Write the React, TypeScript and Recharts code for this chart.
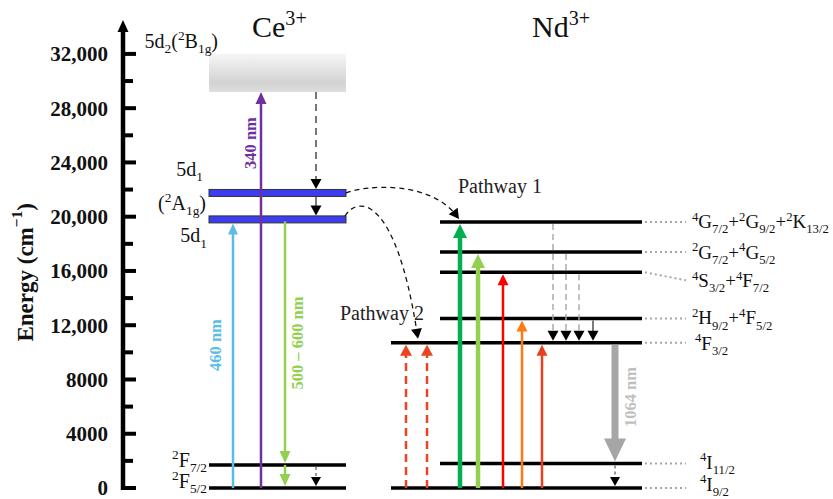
import React from 'react';
import { ComposedChart, XAxis, YAxis, ReferenceLine, ReferenceArea, ReferenceDot } from 'recharts';

const FONT = '"Liberation Serif", "DejaVu Serif", serif';

// ---- energy axis (cm-1) ----
const AXIS_TOP = 34500;
const MAJOR_TICKS = [0, 4000, 8000, 12000, 16000, 20000, 24000, 28000, 32000];
const MAJOR_LABELS = ['0', '4000', '8000', '12,000', '16,000', '20,000', '24,000', '28,000', '32,000'];
const MINOR_TICKS = [2000, 6000, 10000, 14000, 18000, 22000, 26000, 30000];

// ---- Ce3+ levels ----
const ceLevels = [0, 1700];
const ce5d1 = [19800, 21750];
const ce5d2 = [29200, 32000];
const ceLabels = ['5d_2(^2B_1g)', '5d_1', '(^2A_1g)', '5d_1', '^2F_7/2', '^2F_5/2'];
const ceLabelLevel = [32000, 21750, 21750, 19800, 1700, 0];

// ---- Nd3+ levels ----
const ndEnergies = [19600, 17400, 15900, 12500, 10700, 1800, 0];
const ndLabels = [
  '^4G_7/2+^2G_9/2+^2K_13/2',
  '^2G_7/2+^4G_5/2',
  '^4S_3/2+^4F_7/2',
  '^2H_9/2+^4F_5/2',
  '^4F_3/2',
  '^4I_11/2',
  '^4I_9/2',
];
const ndLong = [false, false, false, false, true, false, true];

// ---- transitions: column, from, to (cm-1), kind ----
const ceTransitions = [
  { x: 110, from: 0, to: 19800, kind: 'blue' },
  { x: 138, from: 0, to: 29200, kind: 'purple' },
  { x: 162, from: 19800, to: 1700, kind: 'lime' },
  { x: 162, from: 1700, to: 0, kind: 'lime' },
  { x: 193, from: 29200, to: 21750, kind: 'blackDash' },
  { x: 193, from: 21750, to: 19800, kind: 'black' },
  { x: 193, from: 1700, to: 0, kind: 'blackDashSmall' },
];
const ndTransitions = [
  { x: 283, from: 0, to: 10700, kind: 'redDash' },
  { x: 304, from: 0, to: 10700, kind: 'redDash' },
  { x: 337, from: 0, to: 19600, kind: 'green' },
  { x: 355, from: 0, to: 17400, kind: 'lightGreen' },
  { x: 380, from: 0, to: 15900, kind: 'red' },
  { x: 399, from: 0, to: 12500, kind: 'orange' },
  { x: 419, from: 0, to: 10700, kind: 'redOrange' },
  { x: 430, from: 19600, to: 10700, kind: 'grayDash' },
  { x: 443, from: 17400, to: 10700, kind: 'grayDash' },
  { x: 456, from: 15900, to: 10700, kind: 'grayDash' },
  { x: 470, from: 12500, to: 10700, kind: 'black' },
  { x: 492, from: 10700, to: 1800, kind: 'gray1064' },
  { x: 492, from: 1800, to: 0, kind: 'blackDashSmall' },
];

const wavelengthLabels = ['340 nm', '460 nm', '500 – 600 nm', '1064 nm'];
const wavelengthColors = ['#7030a0', '#5bbde6', '#92d050', '#bfbfbf'];

// ---- layout ----
const CE_SPAN = [86, 223];
const ND_SHORT = [317, 519];
const ND_LONG = [268, 519];
const CE_LABEL_LAYOUT = [
  { x: 95, dy: -6 },
  { x: 80, dy: -17 },
  { x: 83, dy: 17 },
  { x: 84, dy: 23 },
  { x: 84, dy: 2 },
  { x: 84, dy: 0 },
];
const ND_LABEL_DY = [6, 7, 15, 6, 7, 5, 3];
const WL_LAYOUT = [
  { x: 128, e: 25430 },
  { x: 93, e: 10540 },
  { x: 175, e: 10690 },
  { x: 508, e: 6710 },
];

const ARROWS: Record<string, any> = {
  blue: { stroke: '#5bbde6', w: 2.5, len: 11, half: 5, fill: '#5bbde6' },
  purple: { stroke: '#7030a0', w: 2.5, len: 12, half: 5.5, fill: '#7030a0' },
  lime: { stroke: '#92d050', w: 2.5, len: 12, half: 5.5, fill: '#92d050' },
  blackDash: { stroke: '#555', w: 1.6, dash: '7 5', len: 10, half: 5.5, fill: '#000' },
  black: { stroke: '#444', w: 1.4, len: 10, half: 5.5, fill: '#000' },
  blackDashSmall: { stroke: '#444', w: 1.1, dash: '3 3', len: 9, half: 5, fill: '#000' },
  redDash: { stroke: '#ea4420', w: 2.5, dash: '8 5', len: 11, half: 6, fill: '#ea4420' },
  green: { stroke: '#00b050', w: 4.5, len: 14, half: 7, fill: '#00b050' },
  lightGreen: { stroke: '#92d050', w: 4.5, len: 14, half: 7, fill: '#92d050' },
  red: { stroke: '#ff0000', w: 2.5, len: 11, half: 5.5, fill: '#ff0000' },
  orange: { stroke: '#ff7a10', w: 2.5, len: 11, half: 5.5, fill: '#ff7a10' },
  redOrange: { stroke: '#e8401c', w: 2.5, len: 11, half: 5.5, fill: '#e8401c' },
  grayDash: { stroke: '#a6a6a6', w: 1.4, dash: '6 4', len: 10, half: 5.5, fill: '#000' },
  gray1064: { stroke: '#a6a6a6', w: 7, len: 23, half: 11, fill: '#a6a6a6' },
};

function gapAt(e: number) {
  if (ce5d1.includes(e)) return 4;
  if (e === ce5d2[0]) return 0;
  return 2;
}

function head(tx: number, ty: number, fx: number, fy: number, len: number, half: number, fill: string) {
  const dx = tx - fx;
  const dy = ty - fy;
  const d = Math.hypot(dx, dy) || 1;
  const ux = dx / d;
  const uy = dy / d;
  const bx = tx - ux * len;
  const by = ty - uy * len;
  return (
    <polygon
      points={`${tx},${ty} ${bx - uy * half},${by + ux * half} ${bx + uy * half},${by - ux * half}`}
      fill={fill}
    />
  );
}

// "^x" superscript, "_x" subscript
function Rich({ text, size }: { text: string; size: number }) {
  const tokens = text.match(/\^[0-9+\u2212]+|_[^+()^]+|[^^_]+/g) || [];
  let shift = 0;
  return (
    <>
      {tokens.map((t, i) => {
        let target = 0;
        let fs = size;
        let content = t;
        if (t[0] === '^') {
          target = -0.4 * size;
          fs = size * 0.67;
          content = t.slice(1);
        } else if (t[0] === '_') {
          target = 0.27 * size;
          fs = size * 0.67;
          content = t.slice(1);
        }
        const dy = target - shift;
        shift = target;
        return (
          <tspan key={i} dy={dy} fontSize={fs}>
            {content}
          </tspan>
        );
      })}
    </>
  );
}

const transitionShape = (kind: string, from: number, to: number) => (p: any) => {
  const s = ARROWS[kind];
  const dir = p.y2 > p.y1 ? 1 : -1;
  const startY = p.y1 + dir * (from === 0 ? 0 : gapAt(from) - (kind === 'lime' ? 2 : 0));
  const tipY = p.y2 - dir * gapAt(to);
  const shaftEnd = tipY - dir * s.len * 0.7;
  return (
    <g>
      <line x1={p.x1} x2={p.x1} y1={startY} y2={shaftEnd} stroke={s.stroke} strokeWidth={s.w} strokeDasharray={s.dash} />
      {head(p.x1, tipY, p.x1, startY, s.len, s.half, s.fill)}
    </g>
  );
};

// control points as pixel offsets from the segment ends
const curveShape = (c1: number[], c2: number[], tipGap: number) => (p: any) => {
  const x3 = p.x2;
  const y3 = p.y2 - tipGap;
  const ax = p.x1 + c1[0];
  const ay = p.y1 + c1[1];
  const bx = x3 + c2[0];
  const by = y3 + c2[1];
  return (
    <g>
      <path
        d={`M${p.x1},${p.y1} C${ax},${ay} ${bx},${by} ${x3 - (x3 - bx) * 0.06},${y3 - (y3 - by) * 0.06}`}
        fill="none"
        stroke="#111"
        strokeWidth={1.3}
        strokeDasharray="5 4"
      />
      {head(x3, y3, bx, by, 10, 5.5, '#000')}
    </g>
  );
};

const ndLevelShape = (i: number) => (p: any) => {
  const nudge = i === 2 ? 8 : 0;
  const labelX = p.x2 + 50;
  return (
    <g>
      <line x1={p.x1} x2={p.x2} y1={p.y1} y2={p.y2} stroke="#000" strokeWidth={3.5} />
      <line x1={p.x2 + 3} x2={p.x2 + 44} y1={p.y1} y2={p.y1 + nudge} stroke="#a6a6a6" strokeWidth={2} strokeDasharray="2 3" />
      <text x={labelX + (i === 4 ? 3 : i >= 5 ? 8 : 0)} y={p.y1 + ND_LABEL_DY[i]} fontFamily={FONT} fontSize={19} fill="#111">
        <Rich text={ndLabels[i]} size={19} />
      </text>
    </g>
  );
};

function AxisTick(props: any) {
  const { x, y, payload } = props;
  const idx = MAJOR_TICKS.indexOf(payload.value);
  const major = idx >= 0;
  return (
    <g>
      <line x1={x} x2={x + (major ? 13 : 10)} y1={y} y2={y} stroke="#000" strokeWidth={4} />
      {major && (
        <text x={x - 15} y={y} dy="0.35em" textAnchor="end" fontFamily={FONT} fontWeight="bold" fontSize={21} fill="#111">
          {MAJOR_LABELS[idx]}
        </text>
      )}
    </g>
  );
}

const textAt = (node: (cx: number, cy: number) => React.ReactNode) => (p: any) => <g>{node(p.cx, p.cy)}</g>;

export default function App() {
  const allTicks = [...MAJOR_TICKS, ...MINOR_TICKS].sort((a, b) => a - b);
  return (
    <div style={{ width: 833, height: 499, background: '#fff' }}>
      <style>{'body{margin:0}'}</style>
      <ComposedChart width={833} height={499} data={[]} margin={{ top: 20, right: 0, bottom: 11, left: 0 }}>
        <defs>
          <linearGradient id="band5d2" x1="0" y1="0" x2="0" y2="1">
            <stop offset="0%" stopColor="#f6f6f6" />
            <stop offset="75%" stopColor="#d3d3d3" />
            <stop offset="100%" stopColor="#dddddd" />
          </linearGradient>
        </defs>
        <XAxis type="number" dataKey="x" domain={[0, 710]} hide allowDataOverflow />
        <YAxis
          type="number"
          domain={[0, AXIS_TOP]}
          ticks={allTicks}
          interval={0}
          tick={(p: any) => <AxisTick {...p} />}
          tickLine={false}
          axisLine={false}
          tickSize={0}
          tickMargin={0}
          width={123}
          allowDataOverflow
        />

        {/* axis spine with arrow */}
        <ReferenceLine
          segment={[{ x: 0, y: 0 }, { x: 0, y: AXIS_TOP }]}
          shape={(p: any) => (
            <g>
              <line x1={p.x1} x2={p.x1} y1={p.y1 + 2} y2={p.y2 + 10} stroke="#000" strokeWidth={4.5} />
              <polygon points={`${p.x1},${p.y2} ${p.x1 - 5.5},${p.y2 + 12} ${p.x1 + 5.5},${p.y2 + 12}`} fill="#000" />
            </g>
          )}
        />

        {/* Ce 5d2 band */}
        <ReferenceArea
          x1={CE_SPAN[0]}
          x2={CE_SPAN[1]}
          y1={ce5d2[0]}
          y2={ce5d2[1]}
          shape={(p: any) => <rect x={p.x} y={p.y} width={p.width} height={p.height} fill="url(#band5d2)" />}
        />

        {ceLevels.map((e) => (
          <ReferenceLine key={`ce-${e}`} segment={[{ x: CE_SPAN[0], y: e }, { x: CE_SPAN[1], y: e }]} stroke="#000" strokeWidth={3.5} />
        ))}
        {ce5d1.map((e) => (
          <ReferenceLine
            key={`bar-${e}`}
            segment={[{ x: CE_SPAN[0], y: e }, { x: CE_SPAN[1], y: e }]}
            shape={(p: any) => (
              <rect x={p.x1} y={p.y1 - 3.5} width={p.x2 - p.x1} height={7} fill="#3d3df0" stroke="#333" strokeWidth={1} />
            )}
          />
        ))}

        {ndEnergies.map((e, i) => {
          const span = ndLong[i] ? ND_LONG : ND_SHORT;
          return (
            <ReferenceLine key={`nd-${e}`} segment={[{ x: span[0], y: e }, { x: span[1], y: e }]} shape={ndLevelShape(i)} />
          );
        })}

        {[...ceTransitions, ...ndTransitions].map((t, i) => (
          <ReferenceLine
            key={`tr-${i}`}
            segment={[{ x: t.x, y: t.from }, { x: t.x, y: t.to }]}
            shape={transitionShape(t.kind, t.from, t.to)}
          />
        ))}

        {/* energy transfer paths */}
        <ReferenceLine segment={[{ x: CE_SPAN[1], y: ce5d1[1] }, { x: 336, y: ndEnergies[0] }]} shape={curveShape([19, -8], [-28, -39], 3)} />
        <ReferenceLine segment={[{ x: CE_SPAN[1] - 1, y: ce5d1[0] + 250 }, { x: 295, y: ndEnergies[4] }]} shape={curveShape([14, -22], [-22, -140], 4)} />

        {/* titles */}
        <ReferenceDot
          x={129}
          y={33250}
          r={0}
          ifOverflow="visible"
          shape={textAt((cx, cy) => (
            <text x={cx} y={cy} fontFamily={FONT} fontSize={30} fill="#111">
              <Rich text="Ce^3+" size={30} />
            </text>
          ))}
        />
        <ReferenceDot
          x={409}
          y={33250}
          r={0}
          ifOverflow="visible"
          shape={textAt((cx, cy) => (
            <text x={cx} y={cy} fontFamily={FONT} fontSize={30} fill="#111">
              <Rich text="Nd^3+" size={30} />
            </text>
          ))}
        />

        {/* Ce level labels */}
        {ceLabels.map((txt, i) => (
          <ReferenceDot
            key={`cel-${i}`}
            x={CE_LABEL_LAYOUT[i].x}
            y={ceLabelLevel[i]}
            r={0}
            ifOverflow="visible"
            shape={textAt((cx, cy) => (
              <text x={cx} y={cy + CE_LABEL_LAYOUT[i].dy} textAnchor="end" fontFamily={FONT} fontSize={20} fill="#111">
                <Rich text={txt} size={20} />
              </text>
            ))}
          />
        ))}

        {/* wavelength labels */}
        {wavelengthLabels.map((txt, i) => (
          <ReferenceDot
            key={`wl-${i}`}
            x={WL_LAYOUT[i].x}
            y={WL_LAYOUT[i].e}
            r={0}
            ifOverflow="visible"
            shape={textAt((cx, cy) => (
              <text
                x={cx}
                y={cy}
                transform={`rotate(-90 ${cx} ${cy})`}
                textAnchor="middle"
                dominantBaseline="central"
                fontFamily={FONT}
                fontWeight="bold"
                fontSize={16.5}
                fill={wavelengthColors[i]}
              >
                {txt}
              </text>
            ))}
          />
        ))}

        {/* pathway labels */}
        <ReferenceDot
          x={335}
          y={21750}
          r={0}
          ifOverflow="visible"
          shape={textAt((cx, cy) => (
            <text x={cx} y={cy} fontFamily={FONT} fontSize={20} fill="#222">
              Pathway 1
            </text>
          ))}
        />
        <ReferenceDot
          x={217}
          y={12390}
          r={0}
          ifOverflow="visible"
          shape={textAt((cx, cy) => (
            <text x={cx} y={cy} fontFamily={FONT} fontSize={20} fill="#222">
              Pathway 2
            </text>
          ))}
        />

        {/* axis title */}
        <ReferenceDot
          x={-98}
          y={15900}
          r={0}
          ifOverflow="visible"
          shape={textAt((cx, cy) => (
            <text
              x={cx}
              y={cy}
              transform={`rotate(-90 ${cx} ${cy})`}
              textAnchor="middle"
              dominantBaseline="central"
              fontFamily={FONT}
              fontWeight="bold"
              fontSize={23}
              fill="#111"
            >
              <Rich text="Energy (cm^−1)" size={23} />
            </text>
          ))}
        />
      </ComposedChart>
    </div>
  );
}
